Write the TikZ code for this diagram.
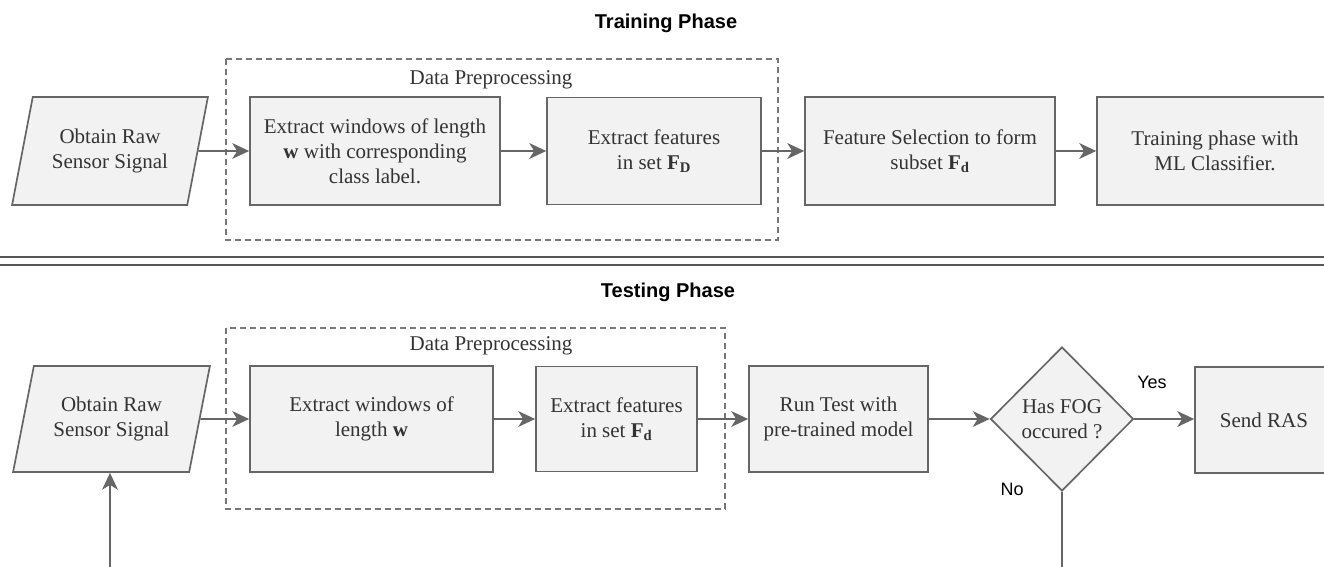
\documentclass[tikz,border=0pt]{standalone}
\usepackage{fontspec}
\setmainfont{Liberation Serif}
\newfontfamily\lsans{Liberation Sans}
\usetikzlibrary{shapes.geometric,arrows.meta}
\definecolor{strk}{HTML}{666666}
\definecolor{fll}{HTML}{F2F2F2}
\definecolor{txt}{HTML}{333333}
\definecolor{dsh}{HTML}{777777}
\begin{document}
\begin{tikzpicture}[x=1pt,y=-1pt,
 box/.style={draw=strk,fill=fll,line width=1.7pt,rectangle,align=center,text=txt,
   font=\fontsize{21}{25}\selectfont,inner sep=0pt},
 para/.style={draw=strk,fill=fll,line width=1.7pt,trapezium,trapezium stretches=true,
   trapezium left angle=70.6,trapezium right angle=109.4,align=center,text=txt,
   font=\fontsize{21}{25}\selectfont,inner sep=0pt},
 dec/.style={draw=strk,fill=fll,line width=1.7pt,diamond,align=center,text=txt,
   font=\fontsize{21}{25}\selectfont,inner sep=0pt},
 grp/.style={draw=dsh,line width=1.4pt,dash pattern=on 6pt off 4pt},
 grplabel/.style={text=txt,font=\fontsize{21}{25}\selectfont,anchor=base,inner sep=0pt},
 ttl/.style={font=\lsans\bfseries\fontsize{20}{24}\selectfont,text=black,inner sep=0pt},
 lbl/.style={font=\lsans\fontsize{18}{22}\selectfont,text=black,inner sep=0pt},
 arr/.style={draw=strk,line width=1.7pt,-{Stealth[length=17pt,width=16pt,inset=5pt,line width=0pt]}},
 ln/.style={draw=strk,line width=1.7pt},
 sep/.style={draw=strk!85!black,line width=1.5pt}]
\useasboundingbox (0,0) rectangle (1324,567);
\clip (0,0) rectangle (1324,567);

% ---------- Training phase ----------
\node[ttl] (t1) at (666,23) {Training Phase};
\draw[grp] (226,59) rectangle (778,240);
\node[grplabel] (g1) at (491,85) {Data Preprocessing};

\node[para,minimum width=196pt,minimum height=108pt] (p1) at (110,151) {Obtain Raw\\Sensor Signal};
\node[box,minimum width=250pt,minimum height=108pt] (a1) at (375,151)
  {Extract windows of length\\\textbf{w} with corresponding\\class label.};
\node[box,minimum width=214pt,minimum height=107pt] (a2) at (654,151)
  {Extract features\\in set \textbf{F\textsubscript{D}}};
\node[box,minimum width=250pt,minimum height=108pt] (a3) at (930,151)
  {Feature Selection to form\\subset \textbf{F\textsubscript{d}}};
\node[box,minimum width=236pt,minimum height=108pt] (a4) at (1215,151)
  {Training phase with\\ML Classifier.};

\draw[arr] (p1.east) -- (a1.west);
\draw[arr] (a1.east) -- (a2.west);
\draw[arr] (a2.east) -- (a3.west);
\draw[arr] (a3.east) -- (a4.west);

% ---------- separator ----------
\coordinate (s1l) at (0,257); \coordinate (s1r) at (1324,257);
\coordinate (s2l) at (0,265); \coordinate (s2r) at (1324,265);
\draw[sep] (s1l) -- (s1r);
\draw[sep] (s2l) -- (s2r);

% ---------- Testing phase ----------
\node[ttl] (t2) at (668,292) {Testing Phase};
\draw[grp] (226,328) rectangle (725,509);
\node[grplabel] (g2) at (491,350) {Data Preprocessing};

\node[para,minimum width=197pt,minimum height=106pt] (p2) at (111.5,419) {Obtain Raw\\Sensor Signal};
\node[box,minimum width=243pt,minimum height=106pt] (c1) at (371.5,419)
  {Extract windows of\\length \textbf{w}};
\node[box,minimum width=161pt,minimum height=105pt] (c2) at (616.5,419)
  {Extract features\\in set \textbf{F\textsubscript{d}}};
\node[box,minimum width=179pt,minimum height=106pt] (c3) at (838.5,419)
  {Run Test with\\pre-trained model};
\node[dec,minimum width=143pt,minimum height=144pt] (d1) at (1062,419)
  {Has FOG\\occured ?};
\node[box,minimum width=138pt,minimum height=106pt] (r1) at (1264,420) {Send RAS};

\draw[arr] (p2.east) -- (c1.west);
\draw[arr] (c1.east) -- (c2.west);
\draw[arr] (c2.east) -- (c3.west);
\draw[arr] (c3.east) -- (d1.west);
\draw[arr] (d1.east) -- (d1.east -| r1.west);
\node[lbl] (yes) at (1152,382) {Yes};
\node[lbl] (no) at (1012,489) {No};

\coordinate (nodown) at (1062,580);
\draw[ln] (d1.south) -- (nodown);
\coordinate (loopin) at (110,580);
\draw[arr] (loopin) -- (loopin |- p2.south);
\end{tikzpicture}
\end{document}
